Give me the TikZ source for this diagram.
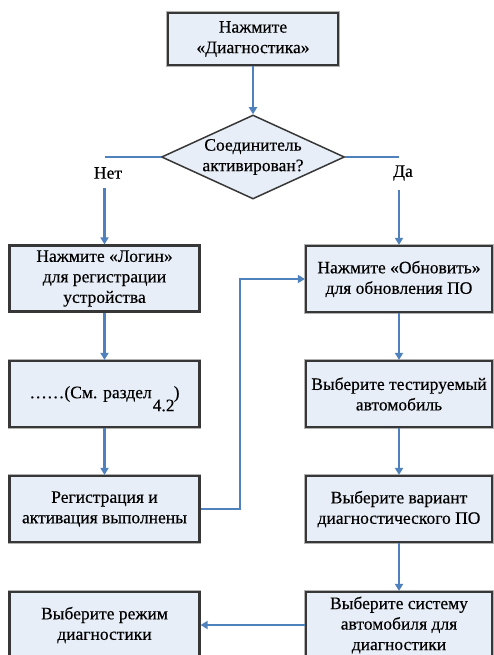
\documentclass[tikz,border=0pt]{standalone}
\usepackage{fontspec}
\setmainfont{Liberation Serif}
\newfontfamily\boxfam{Liberation Serif}[FakeBold=0.4]
\usetikzlibrary{shapes.geometric,arrows.meta}
\definecolor{boxfill}{RGB}{232,238,247}
\definecolor{boxedge}{RGB}{55,55,55}
\definecolor{linkblue}{RGB}{79,129,189}
\newcommand{\boxfont}{\boxfam\fontsize{17.5}{20.5}\selectfont}

\begin{document}
\begin{tikzpicture}[x=1pt,y=-1pt,
  stepbox/.style={rectangle,draw=boxedge,line width=2.2pt,fill=boxfill,align=center,
    preaction={draw=black!30,line width=3.8pt},
    font=\boxfont,inner sep=2pt,minimum width=190pt,minimum height=66pt},
  askbox/.style={diamond,draw=boxedge,line width=1.5pt,fill=boxfill,align=center,
    font=\boxfont,inner sep=0pt,aspect=2.2,minimum width=183pt,minimum height=84pt},
  link/.style={draw=linkblue,line width=2.1pt},
  arr/.style={link,-{Triangle[width=8pt,length=7pt]}},
  lbl/.style={font=\boxfont,inner xsep=1pt,inner ysep=9pt}]
  \useasboundingbox (0,0) rectangle (494,655);
  \clip (0,0) rectangle (494,655);

  % start and question
  \node[stepbox,minimum width=170pt,minimum height=52pt] (press) at (253,39) {Нажмите\\«Диагностика»};
  \node[askbox] (conn) at (253,157) {Соединитель\\активирован?};
  \node[lbl] (no) at (108,173) {Нет};
  \node[lbl] (yes) at (403,173) {Да};

  % left column
  \node[stepbox] (login) at (104.5,278.5) {Нажмите «Логин»\\для регистрации\\устройства};
  \node[stepbox] (see) at (104.5,394)
    {……(См. раздел\hspace{22pt})\llap{\raisebox{-13pt}[0pt][0pt]{4.2}\hspace{5pt}}};
  \node[stepbox] (done) at (104.5,509) {Регистрация и\\активация выполнены};
  \node[stepbox] (mode) at (104.5,625) {Выберите режим\\диагностики};

  % right column
  \node[stepbox,minimum width=186pt] (update) at (399,279) {Нажмите «Обновить»\\для обновления ПО};
  \node[stepbox,minimum width=186pt] (car) at (399,394) {Выберите тестируемый\\автомобиль};
  \node[stepbox,minimum width=186pt] (variant) at (399,509) {Выберите вариант\\диагностического ПО};
  \node[stepbox,minimum width=186pt] (system) at (399,625) {Выберите систему\\автомобиля для\\диагностики};

  \draw[arr] (press.south) -- (conn.north);
  \draw[link] (conn.west) -- (conn.west -| login.north);
  \draw[arr] (login.north |- no.south) -- (login.north);
  \draw[link] (conn.east) -- (conn.east -| update.north);
  \draw[arr] (update.north |- yes.south) -- (update.north);

  \draw[arr] (login.south) -- (see.north);
  \draw[arr] (see.south) -- (done.north);
  \draw[arr] (done.east) -- ++(39,0) |- (update.west);

  \draw[arr] (update.south) -- (car.north);
  \draw[arr] (car.south) -- (variant.north);
  \draw[arr] (variant.south) -- (system.north);
  \draw[arr] (system.west) -- (mode.east);
\end{tikzpicture}
\end{document}
